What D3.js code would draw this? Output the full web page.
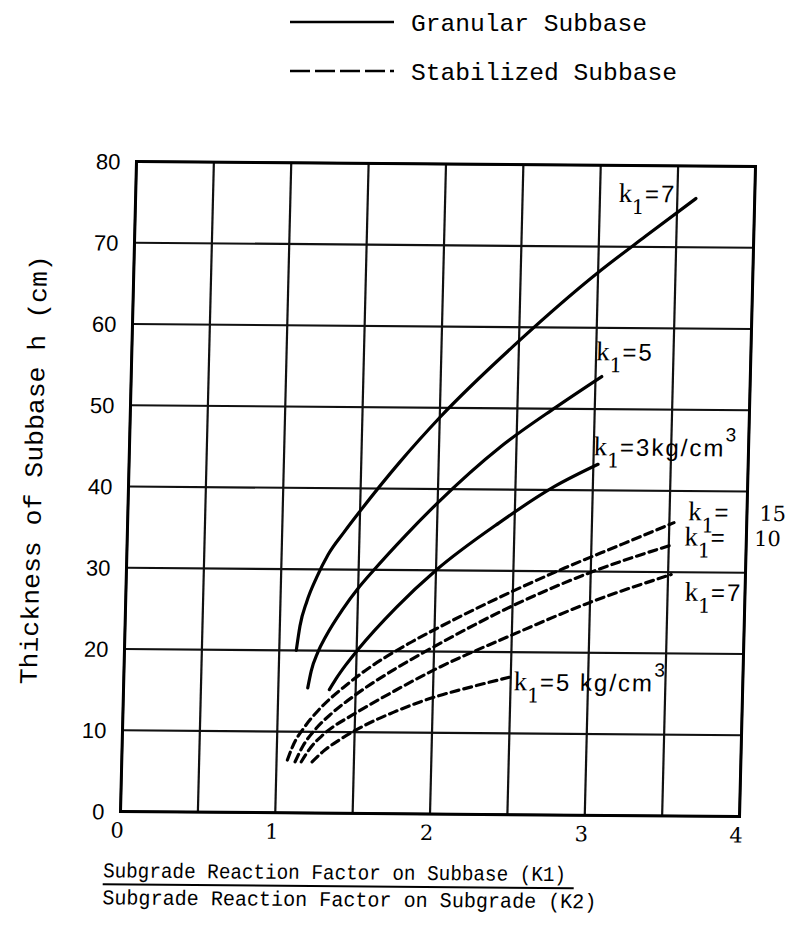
<!DOCTYPE html>
<html>
<head>
<meta charset="utf-8">
<script src="https://cdn.jsdelivr.net/npm/d3@7"></script>
<style>
	body { margin: 0; background: #fff; }
	svg { display: block; }
</style>
</head>
<body>
<svg id="chart" width="792" height="927"></svg>
<script>
// values
var xTicks = [0, 1, 2, 3, 4];
var yTicks = [0, 10, 20, 30, 40, 50, 60, 70, 80];
var xGrid = [0, 0.5, 1, 1.5, 2, 2.5, 3, 3.5, 4];

// granular subbase (solid)
var granK7 = [[1.11,20],[1.13,23],[1.17,26],[1.23,29],[1.3,31.8],[1.4,34.6],[1.5,37.2],[1.75,43.3],[2.0,48.8],[2.5,58.3],[3.0,66.8],[3.3,71.3],[3.62,76]];
var granK5 = [[1.19,15.4],[1.21,17.5],[1.25,19.8],[1.3,21.8],[1.4,25],[1.5,27.7],[1.6,30],[1.8,34.3],[2.0,38.3],[2.4,45.3],[2.75,50.2],[3.04,54]];
var granK3 = [[1.33,15.2],[1.37,16.5],[1.43,18.2],[1.51,20.2],[1.75,25.4],[2.0,30],[2.4,35.9],[2.75,40.4],[3.03,43.2]];

// stabilized subbase (dashed)
var stabK15 = [[1.07,6.5],[1.1,8.1],[1.18,10.7],[1.26,12.6],[1.44,15.8],[1.56,17.6],[1.83,20.9],[2.04,23.1],[2.51,27.6],[2.83,30.4],[3.2,33.4],[3.53,36.1]];
var stabK10 = [[1.12,6.3],[1.17,8.3],[1.25,10.4],[1.35,12.3],[1.5,14.6],[1.75,17.8],[2.0,20.6],[2.5,25.7],[3.0,29.9],[3.51,33.3]];
var stabK7 = [[1.16,6.3],[1.22,8.1],[1.3,9.7],[1.5,12.3],[1.75,15.1],[2.0,17.7],[2.5,22.1],[3.0,26.2],[3.52,29.7]];
var stabK5 = [[1.23,6.3],[1.3,7.6],[1.4,9],[1.53,10.5],[1.75,12.5],[1.98,14.2],[2.25,15.7],[2.49,16.9]];

var series = [
	{pts: granK7, dashed: false},
	{pts: granK5, dashed: false},
	{pts: granK3, dashed: false},
	{pts: stabK15, dashed: true},
	{pts: stabK10, dashed: true},
	{pts: stabK7, dashed: true},
	{pts: stabK5, dashed: true}
];

// curve labels: k, subscript 1, rest, optional superscript
var labels = [
	{x: 3.12, y: 75.5, rest: "=7", sup: ""},
	{x: 3.0, y: 56.0, rest: "=5", sup: ""},
	{x: 3.0, y: 44.3, rest: "=3kg/cm", sup: "3"},
	{x: 3.62, y: 36.4, rest: "=", sup: ""},
	{x: 3.6, y: 33.3, rest: "=", sup: ""},
	{x: 3.61, y: 26.5, rest: "=7", sup: ""},
	{x: 2.52, y: 15.3, rest: "=5 kg/cm", sup: "3"}
];
var sideLabels = [
	{x: 4.08, y: 36.4, text: "15"},
	{x: 4.05, y: 33.3, text: "10"}
];

var W = 619, H = 650;
var svg = d3.select('#chart');

// the scan is a little skewed, so the plot sits in a slightly sheared frame
var g = svg.append('g')
	.attr('transform', 'matrix(1,0.0081,-0.0246,1,136.5,161.5)');

var x = d3.scaleLinear().domain([0, 4]).range([0, W]);
var y = d3.scaleLinear().domain([0, 80]).range([H, 0]);

// grid
g.selectAll('.vgrid').data(xGrid).enter().append('line')
	.attr('class', 'vgrid')
	.attr('x1', function(d){ return x(d); })
	.attr('x2', function(d){ return x(d); })
	.attr('y1', 0).attr('y2', H)
	.style('stroke', '#111').style('stroke-width', 2.2);

g.selectAll('.hgrid').data(yTicks).enter().append('line')
	.attr('class', 'hgrid')
	.attr('x1', 0).attr('x2', W)
	.attr('y1', function(d){ return y(d); })
	.attr('y2', function(d){ return y(d); })
	.style('stroke', '#111').style('stroke-width', 2.2);

// heavier frame
g.append('rect')
	.attr('x', 0).attr('y', 0).attr('width', W).attr('height', H)
	.style('fill', 'none').style('stroke', '#000').style('stroke-width', 3);

// y tick labels
g.selectAll('.ytick').data(yTicks).enter().append('text')
	.attr('class', 'ytick')
	.attr('x', -16)
	.attr('y', function(d){ return y(d) + 8; })
	.attr('text-anchor', 'end')
	.style('font-family', 'Liberation Sans, Arial, sans-serif')
	.style('font-size', '22px')
	.text(function(d){ return d; });

// x tick labels
g.selectAll('.xtick').data(xTicks).enter().append('text')
	.attr('class', 'xtick')
	.attr('x', function(d){ return x(d) - 3; })
	.attr('y', H + 26)
	.attr('text-anchor', 'middle')
	.style('font-family', 'DejaVu Serif, serif')
	.style('font-size', '21px')
	.text(function(d){ return d; });

// curves
var line = d3.line()
	.x(function(d){ return x(d[0]); })
	.y(function(d){ return y(d[1]); })
	.curve(d3.curveMonotoneX);

g.selectAll('.curve').data(series).enter().append('path')
	.attr('class', 'curve')
	.attr('d', function(d){ return line(d.pts); })
	.style('fill', 'none')
	.style('stroke', '#000')
	.style('stroke-width', 3.2)
	.style('stroke-linecap', 'round')
	.style('stroke-dasharray', function(d){ return d.dashed ? '8,5' : null; });

// curve labels
var lab = g.selectAll('.klabel').data(labels).enter().append('text')
	.attr('class', 'klabel')
	.attr('x', function(d){ return x(d.x); })
	.attr('y', function(d){ return y(d.y); })
	.style('font-family', 'Liberation Sans, Arial, sans-serif')
	.style('font-size', '24px');
lab.append('tspan')
	.style('font-family', 'Liberation Serif, serif')
	.style('font-size', '27px')
	.text('k');
lab.append('tspan')
	.attr('dy', 12)
	.style('font-family', 'DejaVu Serif, serif')
	.style('font-size', '20px')
	.text('1');
lab.append('tspan')
	.attr('dy', -12)
	.style('letter-spacing', '2px')
	.text(function(d){ return d.rest; });
lab.filter(function(d){ return d.sup; }).append('tspan')
	.attr('dy', -15)
	.style('font-size', '19px')
	.text(function(d){ return d.sup; });

g.selectAll('.slabel').data(sideLabels).enter().append('text')
	.attr('class', 'slabel')
	.attr('x', function(d){ return x(d.x); })
	.attr('y', function(d){ return y(d.y); })
	.style('font-family', 'DejaVu Serif, serif')
	.style('font-size', '21px')
	.text(function(d){ return d.text; });

// axis titles
g.append('text')
	.attr('transform', 'translate(-87,' + (H / 2 - 16) + ') rotate(-90)')
	.attr('text-anchor', 'middle')
	.attr('textLength', 429)
	.attr('lengthAdjust', 'spacingAndGlyphs')
	.style('font-family', 'Liberation Mono, monospace')
	.style('font-size', '25px')
	.text('Thickness of Subbase h (cm)');

g.append('text')
	.attr('x', -16).attr('y', H + 66)
	.attr('textLength', 463)
	.attr('lengthAdjust', 'spacingAndGlyphs')
	.style('font-family', 'Liberation Mono, monospace')
	.style('font-size', '21px')
	.text('Subgrade Reaction Factor on Subbase (K1)');

g.append('line')
	.attr('x1', -16).attr('x2', 455)
	.attr('y1', H + 73).attr('y2', H + 73)
	.style('stroke', '#000').style('stroke-width', 2);

g.append('text')
	.attr('x', -16).attr('y', H + 93)
	.attr('textLength', 494)
	.attr('lengthAdjust', 'spacingAndGlyphs')
	.style('font-family', 'Liberation Mono, monospace')
	.style('font-size', '21px')
	.text('Subgrade Reaction Factor on Subgrade (K2)');

// legend
var legendItems = [
	{name: 'Granular Subbase', dashed: false, len: 236},
	{name: 'Stabilized Subbase', dashed: true, len: 266}
];
var legend = svg.append('g').attr('transform', 'translate(290,22)');
var li = legend.selectAll('.leg').data(legendItems).enter().append('g')
	.attr('class', 'leg')
	.attr('transform', function(d, i){ return 'translate(0,' + (i * 49) + ')'; });
li.append('line')
	.attr('x1', 0).attr('x2', 104).attr('y1', 0).attr('y2', 0)
	.style('stroke', '#000').style('stroke-width', 2.6)
	.style('stroke-dasharray', function(d){ return d.dashed ? '20,5' : null; });
li.append('text')
	.attr('x', 121).attr('y', 9)
	.attr('textLength', function(d){ return d.len; })
	.attr('lengthAdjust', 'spacingAndGlyphs')
	.style('font-family', 'Liberation Mono, monospace')
	.style('font-size', '24px')
	.text(function(d){ return d.name; });
</script>
</body>
</html>
